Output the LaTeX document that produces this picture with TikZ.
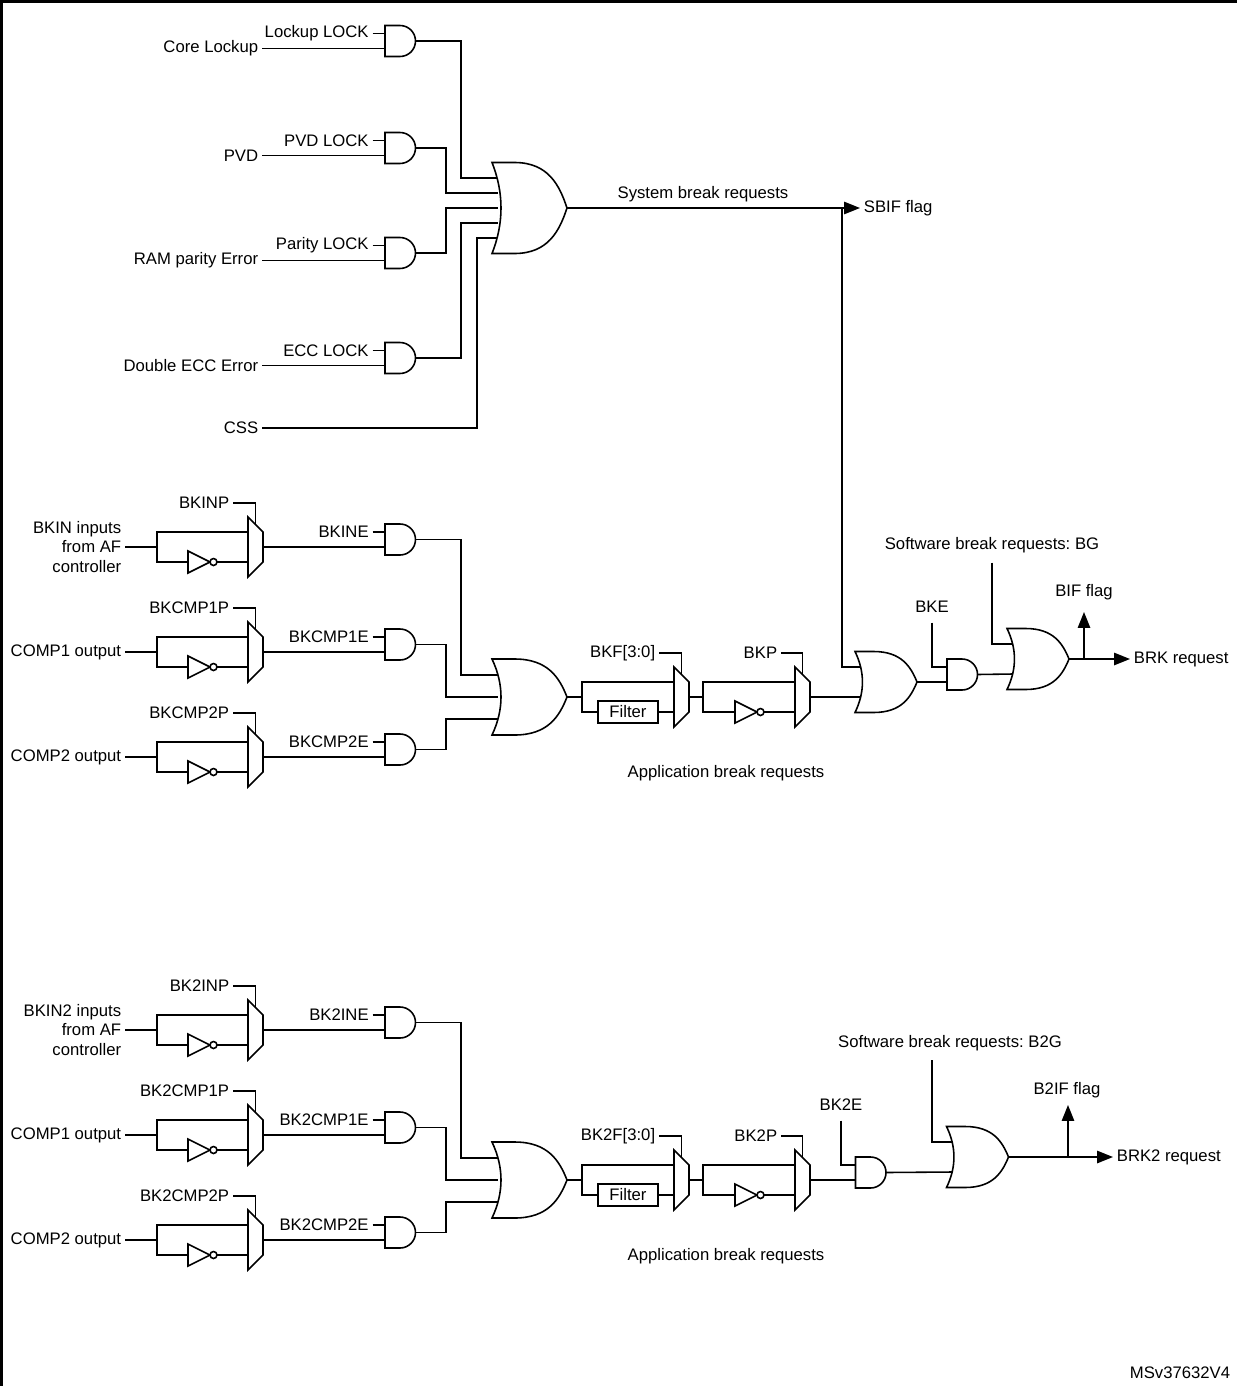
\documentclass[tikz,border=0pt]{standalone}
\usepackage{fontspec}
\setmainfont{Liberation Sans}
\frenchspacing
\usetikzlibrary{positioning,arrows.meta,calc}
\pgfdeclarelayer{background}
\pgfsetlayers{background,main}

\tikzset{
  wire/.style={line width=0.9pt},
  flag/.style={wire,-{Triangle[length=9pt,width=7pt]}},
  lbl/.style={inner sep=2pt,font=\fontsize{9.5}{11}\selectfont},
  box/.style={draw,line width=0.9pt,minimum width=1.2cm,minimum height=0.44cm,inner sep=0pt,font=\fontsize{9.5}{11}\selectfont},
  or w/.store in=\orw, or h/.store in=\orh, or step/.store in=\orst,
  or w=75, or h=91, or step=15,
  small or/.style={or w=62,or h=61,or step=15},
  andg/.pic={
    \draw[wire,fill=white] (-15,-15.5) -- (0,-15.5) arc[start angle=-90,end angle=90,radius=15.5] -- (-15,15.5) -- cycle;
    \coordinate (-in1) at (-15,-7.5);
    \coordinate (-in2) at (-15,7.5);
    \coordinate (-out) at (15.5,0);
  },
  orgate/.pic={
    \pgfmathsetmacro\L{-\orw/2}\pgfmathsetmacro\R{\orw/2}
    \pgfmathsetmacro\H{\orh/2}
    \draw[wire,fill=white] (\L,-\H) -- ({\L+0.3*\orw},-\H)
      .. controls ({\L+0.75*\orw},-\H) and ({\R-0.1*\orw},{-\H/2}) .. (\R,0)
      .. controls ({\R-0.1*\orw},{\H/2}) and ({\L+0.75*\orw},\H) .. ({\L+0.3*\orw},\H)
      -- (\L,\H) .. controls ({\L+0.16*\orw},{\H/3}) and ({\L+0.16*\orw},{-\H/3}) .. cycle;
    \coordinate (-i1) at ({\L+6},{-2*\orst});
    \coordinate (-i2) at ({\L+6},{-\orst});
    \coordinate (-i3) at ({\L+6},0);
    \coordinate (-i4) at ({\L+6},\orst);
    \coordinate (-i5) at ({\L+6},{2*\orst});
    \coordinate (-out) at (\R,0);
  },
  mux/.pic={
    \draw[wire,fill=white] (-7.5,-30) -- (7.5,-15) -- (7.5,15) -- (-7.5,30) -- cycle;
    \coordinate (-in1) at (-7.5,-15);
    \coordinate (-in2) at (-7.5,15);
    \coordinate (-out) at (7.5,0);
    \coordinate (-sel) at (0,-22.5);
  },
  inv/.pic={
    \draw[wire,fill=white] (-11,-11) -- (11,0) -- (-11,11) -- cycle;
    \draw[wire,fill=white] (14.5,0) circle[radius=3.5];
    \coordinate (-in) at (-11,0);
    \coordinate (-out) at (18,0);
  }
}

\begin{document}
\begin{tikzpicture}[x=0.02cm,y=-0.02cm]
  \useasboundingbox (0,0) rectangle (1237,1386);
  \draw[line width=2.2pt] (1.5,1386) -- (1.5,1.5) -- (1237,1.5);

  % system break part
  \pic (a1) at (400,41) {andg};
  \pic (a2) at (400,148) {andg};
  \pic (a3) at (400,253) {andg};
  \pic (a4) at (400,358) {andg};
  \pic (os) at (529.5,208) {orgate};
  \node[lbl,left=0.25cm of a1-in1] (lk1) {Lockup LOCK};
  \node[lbl,left=0.25cm of a2-in1] (lk2) {PVD LOCK};
  \node[lbl,left=0.25cm of a3-in1] (lk3) {Parity LOCK};
  \node[lbl,left=0.25cm of a4-in1] (lk4) {ECC LOCK};
  \node[lbl,anchor=east] (src1) at (262,48.5) {Core Lockup};
  \node[lbl,anchor=east] (src2) at (262,155.5) {PVD};
  \node[lbl,anchor=east] (src3) at (262,260.5) {RAM parity Error};
  \node[lbl,anchor=east] (src4) at (262,365.5) {Double ECC Error};
  \node[lbl,anchor=east] (css) at (262,428) {CSS};
  \coordinate (sb) at (842,208);
  \node[lbl,anchor=west] (sbif) at (860,208) {SBIF flag};
  \node[lbl] (sbr) at (703,194) {System break requests};
  \begin{pgfonlayer}{background}
    \foreach \i in {1,2,3,4} {
      \draw[wire] (lk\i.east) -- (a\i-in1);
      \draw[wire] (src\i.east) -- (a\i-in2);
    }
    \draw[wire] (a1-out) -- ++(45.5,0) |- (os-i1);
    \draw[wire] (a2-out) -- ++(30.5,0) |- (os-i2);
    \draw[wire] (a3-out) -- ++(30.5,0) |- (os-i3);
    \draw[wire] (a4-out) -- ++(45.5,0) |- (os-i4);
    \draw[wire] (css.east) -- (477,428) |- (os-i5);
    \draw[flag] (os-out) -- (sbif.west);
  \end{pgfonlayer}

  % application break parts
  \foreach \dy/\s/\n in {0/BK/,483/BK2/2} {
    \foreach \r/\sel/\en/\lab in {0/INP/INE/{BKIN\n{} inputs\\from AF\\controller},
        1/CMP1P/CMP1E/{COMP1 output},2/CMP2P/CMP2E/{COMP2 output}} {
      \pgfmathsetmacro\y{547+105*\r+\dy}
      \pic (mx\n\r) at (255.5,\y) {mux};
      \pic (iv\n\r) at (199,\y+15) {inv};
      \pic (en\n\r) at (400,\y-7.5) {andg};
      \node[lbl,anchor=east,align=right] (in\n\r) at (125,\y) {\lab};
      \coordinate (sp\n\r) at (157,\y);
      \node[lbl,anchor=east] (sl\n\r) at (233,\y-44) {\s\sel};
      \node[lbl,left=0.25cm of en\n\r-in1] (el\n\r) {\s\en};
      \begin{pgfonlayer}{background}
        \draw[wire] (in\n\r.east) -- (sp\n\r) |- (mx\n\r-in1);
        \draw[wire] (sp\n\r) |- (iv\n\r-in);
        \draw[wire] (iv\n\r-out) -- (mx\n\r-in2);
        \draw[wire] (sl\n\r.east) -| (mx\n\r-sel);
        \draw[wire] (el\n\r.east) -- (en\n\r-in1);
        \draw[wire] (mx\n\r-out) -- (en\n\r-in2);
      \end{pgfonlayer}
    }
    \pic[or h=76,or step=22] (oa\n) at (529.5,697+\dy) {orgate};
    \coordinate (fs\n) at (582,697+\dy);
    \node[box] (flt\n) at (628,712+\dy) {Filter};
    \pic (mf\n) at (681.5,697+\dy) {mux};
    \node[lbl,anchor=east] (fl\n) at (659,653+\dy) {\s F[3:0]};
    \coordinate (ps\n) at (703,697+\dy);
    \pic (ip\n) at (746,712+\dy) {inv};
    \pic (mp\n) at (802.5,697+\dy) {mux};
    \node[lbl,anchor=east] (pl\n) at (781,653+\dy) {\s P};
    \node[lbl] (abr\n) at (726,773+\dy) {Application break requests};
    \begin{pgfonlayer}{background}
      \draw[wire] (en\n0-out) -- ++(45.5,0) |- (oa\n-i2);
      \draw[wire] (en\n1-out) -- ++(30.5,0) |- (oa\n-i3);
      \draw[wire] (en\n2-out) -- ++(30.5,0) |- (oa\n-i4);
      \draw[wire] (oa\n-out) -- (fs\n) |- (mf\n-in1);
      \draw[wire] (fs\n) |- (flt\n.west);
      \draw[wire] (flt\n.east) -- (mf\n-in2);
      \draw[wire] (fl\n.east) -| (mf\n-sel);
      \draw[wire] (mf\n-out) -- (ps\n) |- (mp\n-in1);
      \draw[wire] (ps\n) |- (ip\n-in);
      \draw[wire] (ip\n-out) -- (mp\n-in2);
      \draw[wire] (pl\n.east) -| (mp\n-sel);
    \end{pgfonlayer}
  }

  % BRK output
  \pic[small or] (ob) at (886,682) {orgate};
  \pic (ae) at (962,674.5) {andg};
  \pic[small or] (oc) at (1038,659) {orgate};
  \node[lbl] (bke) at (932,607) {BKE};
  \node[lbl] (sw) at (992,545) {Software break requests: BG};
  \coordinate (bf) at (1084,659);
  \node[lbl] (bif) at (1084,592) {BIF flag};
  \node[lbl,anchor=west] (brk) at (1130,659) {BRK request};
  \begin{pgfonlayer}{background}
    \draw[wire] (sb) |- (ob-i2);
    \draw[wire] (mp-out) -- (ob-i4);
    \draw[wire] (ob-out) -- (ae-in2);
    \draw[wire] (bke.south) ++(0,6) |- (ae-in1);
    \draw[wire] (sw.south) ++(0,6) |- (oc-i2);
    \draw[wire] (ae-out) -- (oc-i4);
    \draw[flag] (oc-out) -- (brk.west);
    \draw[flag] (bf) -- ++(0,-47);
  \end{pgfonlayer}

  % BRK2 output
  \pic (af) at (870.5,1172.5) {andg};
  \pic[small or] (od) at (977.5,1157) {orgate};
  \node[lbl] (bk2e) at (841,1105) {BK2E};
  \node[lbl] (sw2) at (950,1043) {Software break requests: B2G};
  \coordinate (sw2b) at (932,1060);
  \coordinate (bf2) at (1068,1157);
  \node[lbl] (b2if) at (1067,1090) {B2IF flag};
  \node[lbl,anchor=west] (brk2) at (1113,1157) {BRK2 request};
  \begin{pgfonlayer}{background}
    \draw[wire] (mp2-out) -- (af-in2);
    \draw[wire] (bk2e.south) ++(0,6) |- (af-in1);
    \draw[wire] (sw2b) |- (od-i2);
    \draw[wire] (af-out) -- (od-i4);
    \draw[flag] (od-out) -- (brk2.west);
    \draw[flag] (bf2) -- ++(0,-52);
  \end{pgfonlayer}

  \node[lbl,anchor=east] (ref) at (1234,1373) {MSv37632V4};
\end{tikzpicture}
\end{document}
